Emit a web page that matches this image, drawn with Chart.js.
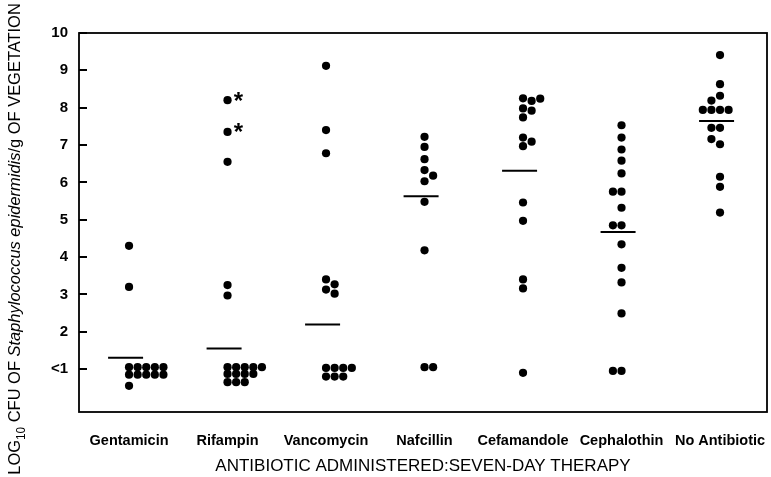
<!DOCTYPE html>
<html><head><meta charset="utf-8">
<script src="https://cdn.jsdelivr.net/npm/chart.js@4/dist/chart.umd.min.js"></script>
<style>html,body{margin:0;padding:0;background:#fff}#wrap{width:771px;height:477px;position:relative}</style>
</head><body><div id="wrap"><canvas id="c"></canvas></div>
<script>
// ---------- DATA ----------
const categories = ['Gentamicin','Rifampin','Vancomycin','Nafcillin','Cefamandole','Cephalothin','No Antibiotic'];
const gentamicin   = [4.3, 3.2, 1.05,1.05,1.05,1.05,1.05, 0.85,0.85,0.85,0.85,0.85, 0.55];
const rifampin     = [8.2, 7.35, 6.55, 3.25, 2.97, 1.05,1.05,1.05,1.05,1.05, 0.87,0.87,0.87,0.87, 0.65,0.65,0.65];
const vancomycin   = [9.12, 7.4, 6.78, 3.40, 3.27, 3.13, 3.02, 1.03,1.03,1.03,1.03, 0.8,0.8,0.8];
const nafcillin    = [7.22, 6.95, 6.62, 6.33, 6.18, 6.03, 5.48, 4.18, 1.05, 1.05];
const cefamandole  = [8.25, 8.18, 8.24, 7.98, 7.92, 7.74, 7.2, 7.09, 6.97, 5.46, 4.97, 3.40, 3.16, 0.9];
const cephalothin  = [7.53, 7.2, 6.88, 6.58, 6.24, 5.75, 5.75, 5.32, 4.85, 4.85, 4.34, 3.71, 3.32, 2.49, 0.95, 0.95];
const noAntibiotic = [9.41, 8.32, 8.63, 8.19, 7.94,7.94,7.94,7.94, 7.46,7.46, 7.02, 7.16, 6.15, 5.88, 5.19];
const means = [1.3, 1.55, 2.19, 5.63, 6.31, 4.67, 7.64];
const rifampinStarred = [8.2, 7.35];
const yTickValues = [1,2,3,4,5,6,7,8,9,10];
const yTickLabels = ['<1','2','3','4','5','6','7','8','9','10'];
const xTitle = 'ANTIBIOTIC ADMINISTERED:SEVEN-DAY THERAPY';
const yTitleParts = [
  {t:'LOG', s:'normal'}, {t:'10', s:'sub'}, {t:' CFU OF ', s:'normal'},
  {t:'Staphylococcus epidermidis', s:'italic'}, {t:'/g OF VEGETATION', s:'normal'}
];

// ---------- LAYOUT (style) ----------
const series = [gentamicin, rifampin, vancomycin, nafcillin, cefamandole, cephalothin, noAntibiotic];
const spreadDir = ['right','right','right','right','right','left','both'];
const COL_STEP = 0.0873, CLASH = 0.16, MEAN_SHIFT = -0.035;
const FONT = '"Liberation Sans", Arial, sans-serif';

function swarm(values, i, dir, starred){
  const placed = [];
  const order = dir==='left' ? k=>-k : dir==='right' ? k=>k : k=>(k===0?0:(k%2? -(k+1)/2 : k/2));
  return values.map(v=>{
    let k=0, col;
    while(true){ col=order(k); if(!placed.some(p=>p.col===col && Math.abs(p.v-v)<CLASH)) break; k++; }
    placed.push({col,v});
    return {x:i+col*COL_STEP, y:v, star: !!(starred && starred.includes(v))};
  });
}
const dots = [];
series.forEach((vals,i)=>dots.push(...swarm(vals,i,spreadDir[i], i===1?rifampinStarred:null)));

const framePlugin = {
  id:'frame',
  beforeDatasetsDraw(chart){
    const {ctx, chartArea:a, scales:{y}} = chart;
    ctx.save();
    ctx.strokeStyle='#000'; ctx.lineWidth=1.8;
    ctx.strokeRect(a.left, a.top, a.right-a.left, a.bottom-a.top);
    ctx.lineWidth=2;
    yTickValues.forEach(v=>{
      const py = Math.round(y.getPixelForValue(v));
      ctx.beginPath(); ctx.moveTo(a.left, py); ctx.lineTo(a.left+8, py); ctx.stroke();
    });
    ctx.restore();
  }
};
const starPlugin = {
  id:'stars',
  afterDatasetsDraw(chart){
    const {ctx} = chart; const meta = chart.getDatasetMeta(0);
    ctx.save(); ctx.fillStyle='#000'; ctx.font='bold 24px '+FONT;
    ctx.textAlign='center'; ctx.textBaseline='alphabetic';
    const m = ctx.measureText('*');
    const mid = (m.actualBoundingBoxAscent - m.actualBoundingBoxDescent)/2;
    meta.data.forEach((el,idx)=>{
      if(dots[idx].star) ctx.fillText('*', el.x+11, el.y-4+mid);
    });
    ctx.restore();
  }
};
const yTitlePlugin = {
  id:'ytitle',
  afterDraw(chart){
    const ctx = chart.ctx;
    const fontFor=(s,sz)=> s==='italic' ? `italic ${sz}px ${FONT}` : s==='sub' ? `${sz*0.72}px ${FONT}` : `${sz}px ${FONT}`;
    const measure=(sz)=>yTitleParts.reduce((w,p)=>{ctx.font=fontFor(p.s,sz); return w+ctx.measureText(p.t).width;},0);
    ctx.save();
    const base=14; const sz = base*472/measure(base);
    const total = measure(sz);
    ctx.translate(20, 239); ctx.rotate(-Math.PI/2);
    ctx.fillStyle='#000'; ctx.textBaseline='alphabetic'; ctx.textAlign='left';
    let x=-total/2;
    yTitleParts.forEach(p=>{
      ctx.font=fontFor(p.s,sz);
      ctx.fillText(p.t, x, p.s==='sub'? sz*0.28 : 0);
      x+=ctx.measureText(p.t).width;
    });
    ctx.restore();
  }
};

new Chart(document.getElementById('c'), {
  type:'scatter',
  data:{datasets:[
    {label:'log10 CFU/g', data:dots, pointStyle:'circle', pointRadius:4.1, pointHoverRadius:4.1,
     backgroundColor:'#000', borderColor:'#000', borderWidth:0},
    {label:'Mean', data:means.map((m,i)=>({x:i+MEAN_SHIFT, y:m})), pointStyle:'line',
     pointRadius:17.5, pointHoverRadius:17.5, borderColor:'#000', backgroundColor:'#000', borderWidth:2}
  ]},
  options:{
    animation:false, responsive:true, maintainAspectRatio:false,
    events:[],
    layout:{autoPadding:false, padding:{top:33,right:4,left:0,bottom:0}},
    plugins:{legend:{display:false}, tooltip:{enabled:false}},
    scales:{
      x:{type:'linear', min:-0.508, max:6.477,
        afterBuildTicks:s=>{s.ticks=categories.map((c,i)=>({value:i}));},
        afterFit:s=>{s.height=65; s.paddingLeft=0; s.paddingRight=0;},
        grid:{display:false}, border:{display:false},
        ticks:{autoSkip:false, maxRotation:0, padding:12, color:'#000',
          font:{family:FONT, size:14.5, weight:'bold'},
          callback:(v,idx)=>categories[idx]},
        title:{display:true, text:xTitle, color:'#000', padding:{top:0,bottom:0},
          font:{family:FONT, size:17, weight:'normal'}}
      },
      y:{type:'linear', min:-0.15, max:10,
        afterBuildTicks:s=>{s.ticks=yTickValues.map(v=>({value:v}));},
        afterFit:s=>{s.width=79; s.paddingTop=0; s.paddingBottom=0;},
        grid:{display:false}, border:{display:false},
        ticks:{padding:3, color:'#000', font:{family:FONT, size:15, weight:'bold'},
          callback:(v,idx)=>yTickLabels[idx]}
      }
    }
  },
  plugins:[framePlugin, starPlugin, yTitlePlugin]
});
</script></body></html>
